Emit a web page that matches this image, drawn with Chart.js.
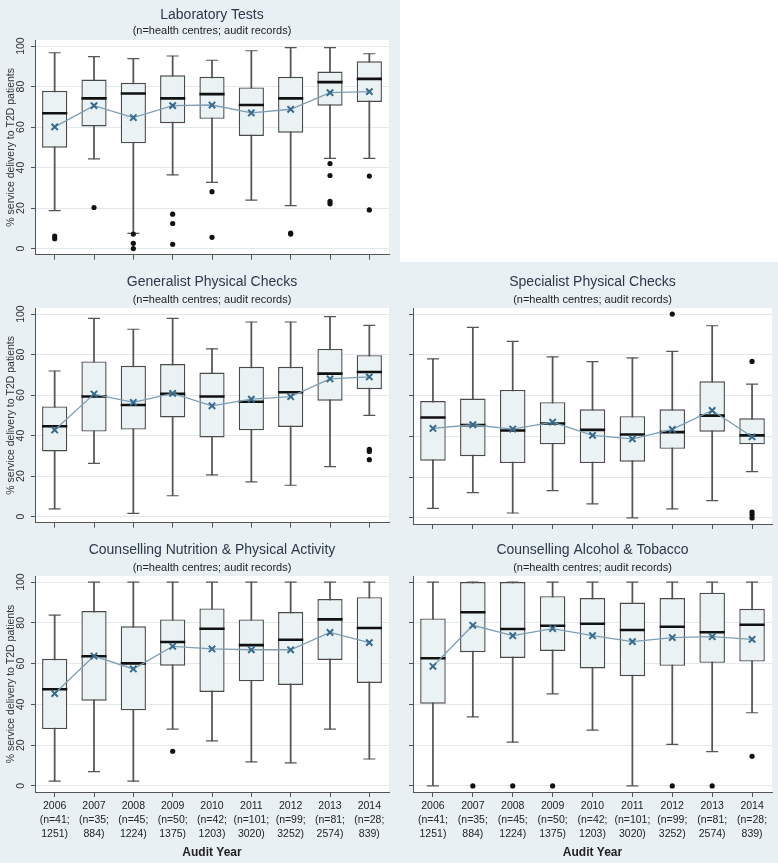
<!DOCTYPE html>
<html>
<head>
<meta charset="utf-8">
<script src="https://cdn.jsdelivr.net/npm/chart.js@4.4.1/dist/chart.umd.min.js"></script>
<style>
  body { margin: 0; background: #e8f0f3; width: 778px; height: 863px; position: relative; overflow: hidden; }
  canvas { position: absolute; }
  #blank { position: absolute; left: 400px; top: 0; width: 378px; height: 262px; background: #fff; }
</style>
</head>
<body>
<div id="blank"></div>
<canvas id="c1" width="400" height="262" style="left:0;top:0"></canvas>
<canvas id="c2" width="400" height="268" style="left:0;top:262px"></canvas>
<canvas id="c3" width="388" height="268" style="left:390px;top:262px"></canvas>
<canvas id="c4" width="400" height="333" style="left:0;top:530px"></canvas>
<canvas id="c5" width="388" height="333" style="left:390px;top:530px"></canvas>
<script>
const years = ['2006', '2007', '2008', '2009', '2010', '2011', '2012', '2013', '2014'];
const centres = [41, 35, 45, 50, 42, 101, 99, 81, 28];
const records = [1251, 884, 1224, 1375, 1203, 3020, 3252, 2574, 839];
const yTicks = [0, 20, 40, 60, 80, 100];

// Laboratory Tests
const labMin  = [18.8, 44.3, 7.5, 36.4, 32.7, 23.9, 21.2, 44.6, 44.6];
const labQ1   = [49.8, 60.3, 52.0, 61.9, 64.1, 55.6, 57.2, 70.6, 72.4];
const labMed  = [66.8, 74.2, 76.6, 74.2, 76.3, 70.9, 74.2, 82.2, 83.8];
const labQ3   = [77.9, 83.5, 81.9, 85.6, 84.8, 79.6, 84.8, 87.4, 92.5];
const labMax  = [96.7, 94.8, 93.8, 95.1, 93.0, 97.7, 99.2, 99.2, 96.2];
const labMean = [60.1, 70.6, 64.7, 70.6, 70.9, 67.0, 68.8, 77.0, 77.5];
const labOut  = [[6.2, 4.9], [20.3], [7.2, 2.6, 0], [17.0, 12.4, 2.1], [28.1, 5.6], [], [7.7, 7.2], [42.0, 36.1, 23.4, 22.1], [35.8, 19.1]];

// Generalist Physical Checks
const genMin  = [3.8, 26.3, 1.6, 10.3, 20.6, 17.2, 15.5, 24.7, 50.0];
const genQ1   = [32.2, 42.0, 43.0, 49.0, 39.1, 42.6, 44.3, 57.2, 62.9];
const genMed  = [44.6, 59.3, 55.1, 60.6, 59.3, 56.7, 61.4, 70.6, 71.4];
const genQ3   = [54.4, 76.6, 74.5, 75.3, 71.1, 74.0, 74.0, 82.8, 79.7];
const genMax  = [71.9, 97.9, 92.5, 97.9, 82.8, 96.1, 96.1, 98.7, 94.4];
const genMean = [42.8, 60.5, 56.4, 60.8, 54.7, 58.0, 59.2, 68.0, 69.0];
const genOut  = [[], [], [], [], [], [], [], [], [33.2, 32.2, 28.1]];

// Specialist Physical Checks
const specMin  = [4.7, 12.4, 2.4, 13.4, 6.9, 0, 4.4, 8.5, 22.7];
const specQ1   = [28.1, 30.3, 26.9, 36.1, 26.9, 27.6, 33.9, 42.3, 36.1];
const specMed  = [49.3, 45.5, 42.9, 46.3, 43.2, 40.9, 42.1, 50.2, 40.5];
const specQ3   = [57.3, 58.6, 62.8, 56.8, 53.3, 49.9, 53.3, 67.0, 48.9];
const specMax  = [78.0, 93.5, 86.6, 79.0, 76.7, 78.5, 81.7, 94.3, 65.6];
const specMean = [43.9, 45.7, 43.6, 47.0, 40.5, 38.8, 43.4, 52.7, 39.8];
const specOut  = [[], [], [], [], [], [], [100], [], [76.8, 2.9, 1.6, 0]];

// Counselling Nutrition & Physical Activity
const nutMin  = [2.3, 7.0, 2.3, 27.9, 22.1, 11.8, 11.3, 27.9, 13.2];
const nutQ1   = [27.9, 41.8, 37.1, 59.0, 46.1, 51.3, 49.5, 61.8, 50.5];
const nutMed  = [47.4, 63.6, 60.1, 70.6, 77.1, 69.1, 71.7, 81.7, 77.5];
const nutQ3   = [62.4, 85.8, 78.3, 81.7, 87.1, 81.7, 85.3, 91.7, 92.6];
const nutMax  = [83.8, 100, 100, 100, 100, 100, 100, 100, 100];
const nutMean = [45.3, 63.7, 57.4, 68.5, 67.2, 66.8, 66.8, 75.3, 70.3];
const nutOut  = [[], [], [], [17.0], [], [], [], [], []];

// Counselling Alcohol & Tobacco
const alcMin  = [0, 33.9, 21.5, 45.2, 27.4, 0, 20.4, 16.8, 35.9];
const alcQ1   = [40.3, 65.6, 62.8, 66.2, 57.6, 53.8, 58.9, 60.4, 61.0];
const alcMed  = [62.6, 85.2, 77.0, 78.6, 79.6, 76.5, 78.1, 75.4, 79.1];
const alcQ3   = [82.2, 100, 100, 93.1, 92.2, 90.0, 92.2, 94.8, 86.9];
const alcMax  = [100, 100, 100, 100, 100, 100, 100, 100, 100];
const alcMean = [58.7, 78.8, 73.7, 77.2, 73.7, 70.8, 72.8, 73.2, 71.9];
const alcOut  = [[], [0], [0], [0], [], [], [0], [0], [14.5]];

const FONT = "'Liberation Sans', Arial, sans-serif";
const EDGE = '#4a4a4a';

// white plot region like stata
const plotBg = {
  id: 'plotBg',
  beforeDraw(chart) {
    const { ctx, chartArea: a } = chart;
    ctx.save();
    ctx.fillStyle = '#ffffff';
    ctx.fillRect(a.left, a.top, a.right - a.left, a.bottom - a.top);
    ctx.restore();
  }
};

function boxSets(mn, q1, med, q3, mx, mean, out) {
  const outPts = [];
  out.forEach((vals, i) => vals.forEach(v => outPts.push({ x: years[i], y: v })));
  const dot = { type: 'line', showLine: false, pointStyle: 'line', pointBackgroundColor: EDGE };
  return [
    { type: 'bar', data: mn.map((v, i) => [v, mx[i]]), backgroundColor: '#555', borderWidth: 0,
      barThickness: 1.1, grouped: false, order: 6 },
    { type: 'bar', data: q1.map((v, i) => [v, q3[i]]), backgroundColor: '#eaf2f4', borderColor: EDGE,
      borderWidth: 1.4, borderSkipped: false, barPercentage: 0.64, categoryPercentage: 1, grouped: false, order: 5 },
    { ...dot, data: mx, pointRadius: 6, pointBorderWidth: 1.2, pointBorderColor: '#555', order: 4 },
    { ...dot, data: mn, pointRadius: 6, pointBorderWidth: 1.2, pointBorderColor: '#555', order: 4 },
    { ...dot, data: med, pointRadius: 12.6, pointBorderWidth: 2.6, pointBorderColor: '#111', order: 3 },
    { type: 'line', data: mean, borderColor: '#7d9eb5', borderWidth: 1.3, tension: 0,
      pointStyle: 'crossRot', pointRadius: 4.5, pointBorderWidth: 2, pointBorderColor: '#376b8d', order: 2 },
    { type: 'line', showLine: false, data: outPts, pointStyle: 'circle', pointRadius: 2.6,
      pointBackgroundColor: '#111', pointBorderWidth: 0, order: 1 }
  ];
}

function panel(id, title, sets, opt) {
  new Chart(document.getElementById(id), {
    type: 'bar',
    data: { labels: years, datasets: sets },
    plugins: [plotBg],
    options: {
      responsive: false,
      animation: false,
      events: [],
      layout: { autoPadding: false, padding: { left: 0, right: opt.right, top: 0, bottom: 0 } },
      plugins: {
        legend: { display: false },
        tooltip: { enabled: false },
        title: { display: true, text: title, fullSize: false, color: '#2b3847',
          font: { family: FONT, size: 14, weight: 'normal' }, padding: { top: opt.padTop, bottom: opt.padMid } },
        subtitle: { display: true, text: '(n=health centres; audit records)', fullSize: false, color: '#222',
          font: { family: FONT, size: 11 }, padding: { top: 0, bottom: opt.padSub } }
      },
      scales: {
        x: {
          grid: { offset: false, drawOnChartArea: false, tickColor: '#555', tickLength: 5 },
          border: { color: '#555', width: 1 },
          ticks: {
            display: opt.xLabels, autoSkip: false, maxRotation: 0, minRotation: 0, padding: 2,
            color: '#222', font: { family: FONT, size: 10.5, lineHeight: 1.33 },
            callback: (v, i) => [years[i], '(n=' + centres[i] + ';', records[i] + ')']
          },
          title: { display: opt.xLabels, text: 'Audit Year', color: '#222',
            font: { family: FONT, size: 12, weight: 'bold' }, padding: { top: 0, bottom: 3 } },
          afterFit: s => { s.height = opt.xLabels ? 71 : 6; }
        },
        y: {
          min: -3, max: 103,
          afterBuildTicks: s => { s.ticks = yTicks.map(v => ({ value: v })); },
          afterFit: s => { s.width = opt.yw; },
          border: { color: '#555', width: 1 },
          grid: { color: '#e1e9ed', tickColor: '#555', tickLength: 4 },
          ticks: { display: opt.yLabels, minRotation: 90, maxRotation: 90, crossAlign: 'center', padding: 1,
            color: '#333', font: { family: FONT, size: 10.5 } },
          title: { display: opt.yLabels, text: '% service delivery to T2D patients', color: '#333',
            font: { family: FONT, size: 10.5 }, padding: { top: 5, bottom: 0 } }
        }
      }
    }
  });
}

const topOpt = { right: 11, yw: 35, yLabels: true, xLabels: false, padTop: 6.6, padMid: 1, padSub: 2.4 };
const leftOpt = { right: 11, yw: 35, yLabels: true, xLabels: false, padTop: 11.6, padMid: 3, padSub: 1.4 };
const rightOpt = { right: 6, yw: 23, yLabels: false, xLabels: false, padTop: 11.6, padMid: 3, padSub: 1.4 };

panel('c1', 'Laboratory Tests', boxSets(labMin, labQ1, labMed, labQ3, labMax, labMean, labOut), topOpt);
panel('c2', 'Generalist Physical Checks', boxSets(genMin, genQ1, genMed, genQ3, genMax, genMean, genOut), leftOpt);
panel('c3', 'Specialist Physical Checks', boxSets(specMin, specQ1, specMed, specQ3, specMax, specMean, specOut), rightOpt);
panel('c4', 'Counselling Nutrition & Physical Activity', boxSets(nutMin, nutQ1, nutMed, nutQ3, nutMax, nutMean, nutOut),
  { ...leftOpt, xLabels: true });
panel('c5', 'Counselling Alcohol & Tobacco', boxSets(alcMin, alcQ1, alcMed, alcQ3, alcMax, alcMean, alcOut),
  { ...rightOpt, xLabels: true });
</script>
</body>
</html>
